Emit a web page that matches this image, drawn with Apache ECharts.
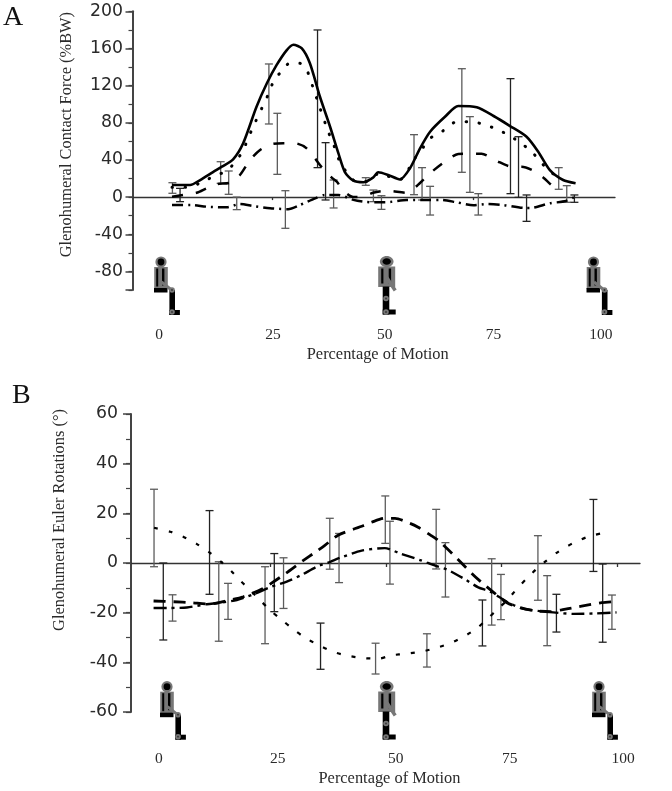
<!DOCTYPE html>
<html><head><meta charset="utf-8">
<style>html,body{margin:0;padding:0;background:#fff}#c{width:672px;height:791px}</style>
<script src="https://cdn.jsdelivr.net/npm/echarts@6/dist/echarts.min.js"></script>
</head><body><div id="c"></div>
<script>
// tick labels
const motionTicks = [0, 25, 50, 75, 100];
const forceTicks = [200, 160, 120, 80, 40, 0, -40, -80];
const angleTicks = [60, 40, 20, 0, -20, -40, -60];

// Panel A: glenohumeral contact force, [percent of motion, %BW]
const forceSolid = [[0,13],[4.5,13],[7,18.4],[10.2,27],[12.4,32.7],[15.2,40.7],[17.7,58],[21,97],[23.6,122.5],[26,142],[28.5,158],[30.2,164],[32.3,160],[34.3,144],[36.8,108],[39.3,76],[41.4,47],[43,27],[45.1,17.7],[47.6,16],[50,21],[51.3,26.7],[53.8,23.8],[56.7,19],[59.2,31],[61.7,52.5],[64.2,70.4],[67.9,86.5],[71.2,98],[75.8,96.6],[80,87.3],[84.1,76.5],[88.2,65],[91.1,48.9],[94,29],[97.3,18.4],[100.4,15]];
const forceDotted = [[0,10.5],[4.5,10.5],[7,15.5],[10.3,22],[13.6,28.5],[16,39],[17.7,50.7],[20,74],[22.7,99],[24.1,112],[25.6,128],[27.3,135],[29.2,144],[31.8,144],[33.5,137],[35,119],[36.8,96],[38.9,70],[40.1,58],[41,46],[42.2,34.5],[45.1,18.4],[48,16.6],[50,20],[51.3,25.6],[53.5,22.7],[56.7,19],[60.4,41.8],[62.5,53.6],[64.2,63.3],[67.3,71],[70.4,80.5],[74,81],[77.3,78.7],[80.8,73],[83.7,66.8],[86.6,58.6],[89.3,49.6],[91.5,39],[93.6,29],[96.5,20]];
const forceDashed = [[0,0.4],[2.8,2.3],[6.1,4.7],[8.6,9.5],[11.1,14],[14.4,15.5],[16.9,23.8],[19.4,40],[21.9,50.7],[24.8,57],[27.7,58],[30.6,58],[33.5,52.5],[36.8,34.6],[38.9,23.8],[41,16.6],[42.6,6.9],[45.1,0],[47.5,0.4],[50,4.7],[53.4,6.9],[58.4,4.7],[60.9,12],[64.2,25.6],[67.5,37],[71.2,46.4],[74.1,46.7],[77,46.7],[80.8,38.9],[84.5,32.7],[87,32.7],[89.9,28.4],[92.4,20.9],[94.4,13],[96.5,6.9]];
const forceDashDot = [[0,-8.5],[4.8,-8.5],[8.6,-10.3],[13.6,-11],[16.9,-7.4],[20.2,-9.6],[24.4,-12],[28.9,-13],[31.8,-8.5],[35.6,-1.3],[38,2.3],[41.4,2.3],[45.1,-3],[48.4,-5.3],[53,-5.6],[58.4,-3],[64.2,-3],[66.7,-3],[70.8,-5.6],[75,-8.8],[78.3,-7.4],[82.4,-8.5],[87.8,-11.7],[89.8,-11.4],[94,-6.7],[98,-4.2],[100.2,0.4]];
// [percent, high, low]
const forceErrGrey = [[0.1,15.5,4.1],[12.1,38.1,14.8],[14.1,28.1,3],[16.1,0,-13.5],[24.1,143.3,78.7],[26.2,90.2,24.5],[28.2,6.9,-33.6],[40.2,18.4,-11.7],[48.2,20.9,12.7],[50.1,7.6,-4.9],[52.1,1.5,-13.2],[60.2,67.2,2.6],[62.2,31.7,-3.1],[64.2,11.6,-19.3],[72.1,138.2,26.7],[74.1,86.6,5.1],[76.2,3.7,-19.3],[96.2,31.7,8.4],[98.2,12.3,-5.6]];
const forceErrDark = [[2,9.4,-4.9],[36.2,179.9,31.7],[38.2,58.6,-3.1],[84.2,127.5,3.7],[86.2,65,-0.3],[88.2,2.3,-26.1],[100.1,2.3,-5.6]];

// Panel B: glenohumeral Euler rotations, [percent of motion, degrees]
const angleDotted = [[-0.1,14.2],[3.4,12.6],[6.2,10.6],[9.1,7.7],[11.6,4.6],[14.2,0.8],[16.5,-3.1],[18.6,-7.2],[20.8,-11.1],[23,-15.3],[25.1,-19.2],[27.4,-22.7],[29.8,-26.4],[32.4,-29.9],[35.4,-33],[38.5,-35.7],[41.7,-37.3],[45.2,-38.3],[48.6,-38.5],[51.1,-37.2],[54.6,-36.5],[58,-35.6],[61.1,-34.1],[64.1,-32.2],[67,-29.5],[69.7,-26.3],[72,-22.5],[74.2,-18.5],[76.3,-14.9],[78.3,-10.5],[80.5,-6.2],[82.6,-2.4],[84.9,1.2],[87.5,4.8],[90.4,7.9],[93.6,10.5],[97,12.1]];
const angleDashed = [[-0.2,-15.3],[4.1,-15.6],[8,-16],[11.9,-16.5],[15.6,-15.2],[19.2,-13.6],[23.5,-10.2],[27.9,-4.8],[31.8,0.5],[35.1,4.8],[36.9,7.2],[39.8,11.3],[45.1,15],[46.9,16.4],[49.8,18],[52,18],[55.2,16],[57,14.4],[59.6,11.3],[61.4,9],[65,2.6],[68.6,-4.2],[70.7,-7.8],[73.3,-11.8],[76.2,-16],[79.1,-18],[82,-19.2],[85.6,-19.6],[88,-18.9],[90.9,-17.9],[93.8,-16.9],[96.7,-16],[99.4,-15.6]];
const angleDashDot = [[-0.2,-18.1],[3.4,-18.1],[7,-17.9],[11.3,-16.6],[14.2,-16],[17.8,-14.9],[21.4,-12.6],[25.3,-9.5],[28.6,-7.5],[31.8,-4.8],[35.1,-1.5],[38,0.5],[40.1,2.1],[44.8,5],[49.8,6],[53,3.9],[57.4,1.2],[60.7,-1.1],[63.2,-2.6],[66.8,-6.2],[70,-9.8],[72.6,-11.5],[76.2,-15.6],[79.4,-18.3],[83,-19.3],[86.2,-19.9],[90.6,-20.5],[95.6,-20.3],[99.9,-19.9]];
const angleErrGrey = [[-0.1,29.7,-1.5],[3.9,-12.8,-23.4],[13.9,0.5,-31.5],[15.9,-8.2,-22.7],[23.9,-1.5,-32.5],[27.9,2.1,-18.3],[37.9,18,-2.5],[39.9,11.9,-7.9],[47.8,-32.3,-44.7],[49.9,27,7.9],[50.9,16.8,-8.5],[58.9,-28.5,-41.9],[60.9,21.6,-2.4],[62.9,8.2,-13.7],[72.9,1.7,-25],[74.9,-4.6,-22.8],[82.9,11,-15],[84.9,-5.1,-33.3],[98.9,-12.9,-26.7]];
const angleErrDark = [[1.9,0,-31],[11.9,21.1,-12.6],[25.9,3.8,-19.6],[35.9,-24.2,-42.8],[70.9,-14.9,-33.4],[86.9,-12.6,-27.8],[94.9,25.6,-3.4],[96.9,-0.4,-31.9]];

const serif = '"Liberation Serif"', sans = '"DejaVu Sans"';
const textColor = '#2a2a2a';
const labelSpotsA = [0, 25.8, 51.1, 75.7, 100];   // printed label spots along panel A
const labelSpotsB = [0, 25.6, 51.0, 75.6, 100];   // printed label spots along panel B

const panels = [
  {box:{left:132.5,top:11.3,width:482.5,height:278.7}, yMin:-100,yMax:200,yStep:20, yMajor:[...forceTicks,-100], yLabels:forceTicks,
   dataX:[-9.83,110.2], tickX:[25,75], tickLen:3, labelX:[-6,103.17], spots:labelSpotsA, labelMargin:37, nameGap:57, namePad:0,
   yName:'Glenohumeral Contact Force (%BW)', yNameGap:58, yNamePad:32, yMargin:9.5, major:7, minor:4},
  {box:{left:131,top:414,width:509,height:298}, yMin:-60,yMax:60,yStep:10, yMajor:angleTicks, yLabels:angleTicks,
   dataX:[-5.08,104.97], tickX:[25,50,75,100], tickLen:4, labelX:[-6.03,103.66], spots:labelSpotsB, labelMargin:39, nameGap:59, namePad:0,
   yName:'Glenohumeral Euler Rotations (°)', yNameGap:63, yNamePad:86, yMargin:13, major:8, minor:5}
];

const grid=[], xAxis=[], yAxis=[];
panels.forEach((p,i)=>{
  grid.push({...p.box, containLabel:false});
  xAxis.push({type:'value', gridIndex:i, min:p.dataX[0], max:p.dataX[1], position:'bottom',
    axisLine:{show:true,onZero:true,lineStyle:{color:'#333',width:1.3}},
    axisTick:{show:true,customValues:p.tickX,length:p.tickLen,lineStyle:{color:'#333',width:1.3}},
    axisLabel:{show:false}, splitLine:{show:false}});
  xAxis.push({type:'value', gridIndex:i, min:p.labelX[0], max:p.labelX[1], position:'bottom',
    axisLine:{show:false,onZero:false}, axisTick:{show:false}, splitLine:{show:false},
    axisLabel:{show:true,customValues:p.spots,margin:p.labelMargin,fontFamily:serif,fontSize:15.5,color:textColor,
      formatter:v=>{const k=p.spots.indexOf(v);return k<0?'':String(motionTicks[k]);}},
    name:'Percentage of Motion',nameLocation:'middle',nameGap:p.nameGap,
    nameTextStyle:{fontFamily:serif,fontSize:16.4,color:textColor,padding:[0,0,0,p.namePad+8]}});
  yAxis.push({type:'value', gridIndex:i, min:p.yMin, max:p.yMax,
    axisLine:{show:true,onZero:false,lineStyle:{color:'#444',width:2}},
    axisTick:{show:true,customValues:p.yMajor,length:p.major,lineStyle:{color:'#444',width:1.5}},
    axisLabel:{show:true,customValues:p.yLabels,margin:p.yMargin,fontFamily:sans,fontSize:17.3,color:textColor},
    splitLine:{show:false},
    name:p.yName,nameLocation:'middle',nameGap:p.yNameGap,nameRotate:90,
    nameTextStyle:{fontFamily:serif,fontSize:16.4,color:textColor,padding:[0,0,0,p.yNamePad]}});
  yAxis.push({type:'value', gridIndex:i, min:p.yMin, max:p.yMax, interval:p.yStep, position:'left',
    axisLine:{show:false,onZero:false}, axisTick:{show:true,length:p.minor,lineStyle:{color:'#444',width:1.2}},
    axisLabel:{show:false}, splitLine:{show:false}});
});

function errRender(color){
  return function(params,api){
    const x=api.value(0), hi=api.coord([x,api.value(1)]), lo=api.coord([x,api.value(2)]);
    const cap=4, style={stroke:color,lineWidth:1.3,fill:null};
    return {type:'group',children:[
      {type:'line',shape:{x1:hi[0],y1:hi[1],x2:lo[0],y2:lo[1]},style},
      {type:'line',shape:{x1:hi[0]-cap,y1:hi[1],x2:hi[0]+cap,y2:hi[1]},style},
      {type:'line',shape:{x1:lo[0]-cap,y1:lo[1],x2:lo[0]+cap,y2:lo[1]},style}
    ]};
  };
}
const errSeries=(data,color,ax)=>({type:'custom',xAxisIndex:ax*2,yAxisIndex:ax*2,data,renderItem:errRender(color),
  encode:{x:0,y:[1,2]},clip:false,silent:true,animation:false,z:2});
const lineSeries=(data,ax,width,dash,cap)=>({type:'line',xAxisIndex:ax*2,yAxisIndex:ax*2,data,showSymbol:false,smooth:0.25,
  clip:false,silent:true,animation:false,z:3,lineStyle:{color:'#000',width,type:dash,cap:cap||'butt'}});

const dotA=[0.5,12.5], dashA=[11,13], dashDotA=[11,5,2,5];
const dotB=[4,11], dashB=[12,8], dashDotB=[13,5,3,5];
const series=[
  errSeries(forceErrGrey,'#5c5c5c',0), errSeries(forceErrDark,'#222',0),
  lineSeries(forceSolid,0,2.6,'solid'),
  lineSeries(forceDotted,0,3,dotA,'round'),
  lineSeries(forceDashed,0,2.5,dashA),
  lineSeries(forceDashDot,0,2.5,dashDotA),
  errSeries(angleErrGrey,'#5c5c5c',1), errSeries(angleErrDark,'#222',1),
  lineSeries(angleDotted,1,2.2,dotB),
  lineSeries(angleDashed,1,2.8,dashB),
  lineSeries(angleDashDot,1,2.4,dashDotB)
];

// seated-figure pictograms under the axes
const G='#777', K='#000';
const r=(x,y,w,h,fill)=>({type:'rect',shape:{x,y,width:w,height:h},style:{fill}});
const c=(x,y,rad,fill)=>({type:'circle',shape:{cx:x,cy:y,r:rad},style:{fill}});
const joint=(x,y)=>[c(x,y,2.8,G),c(x,y,0.9,'#333')];
const seated=(x,y)=>({type:'group',x,y,silent:true,children:[
  c(0,0,5.6,G),c(0,0,3.4,K),
  r(-6.8,5,13.6,22,G),r(-4.8,6.5,2,18,K),r(1,6.5,2.4,17,K),
  r(-7,26,13.5,4.5,K),r(8.4,28,5.6,25,K),r(8.4,48,10.5,5,K),
  {type:'line',shape:{x1:0.5,y1:20,x2:10.5,y2:28},style:{stroke:G,lineWidth:3}},
  ...joint(11,28),...joint(11,50)
]});
const hanging=(x,y)=>({type:'group',x,y,silent:true,children:[
  {type:'ellipse',shape:{cx:0,cy:0,rx:6.8,ry:5.6},style:{fill:G}},{type:'ellipse',shape:{cx:0,cy:0,rx:4.2,ry:3.2},style:{fill:K}},
  r(-8.5,5,17,20.5,G),r(-5.5,7,2.2,15,K),r(2,7,2.4,15,K),
  r(-4,25,6.6,28,K),r(-4,48,13,5,K),
  {type:'line',shape:{x1:0,y1:16,x2:8.5,y2:29},style:{stroke:G,lineWidth:3.5}},
  ...joint(-0.7,37),...joint(-0.7,50.5)
]});
const letter=(t,x,y)=>({type:'text',x,y,style:{text:t,font:'28px '+serif,fill:'#111',textVerticalAlign:'top'},silent:true});

const graphic=[
  letter('A',3,4), letter('B',12,382),
  seated(161,262), hanging(386.7,261.5), seated(593.5,262),
  seated(167,686.7), hanging(386.7,686.5), seated(599,686.7)
];

const chart=echarts.init(document.getElementById('c'),null,{renderer:'canvas'});
chart.setOption({animation:false,backgroundColor:'#fff',grid,xAxis,yAxis,series,graphic});
</script></body></html>
